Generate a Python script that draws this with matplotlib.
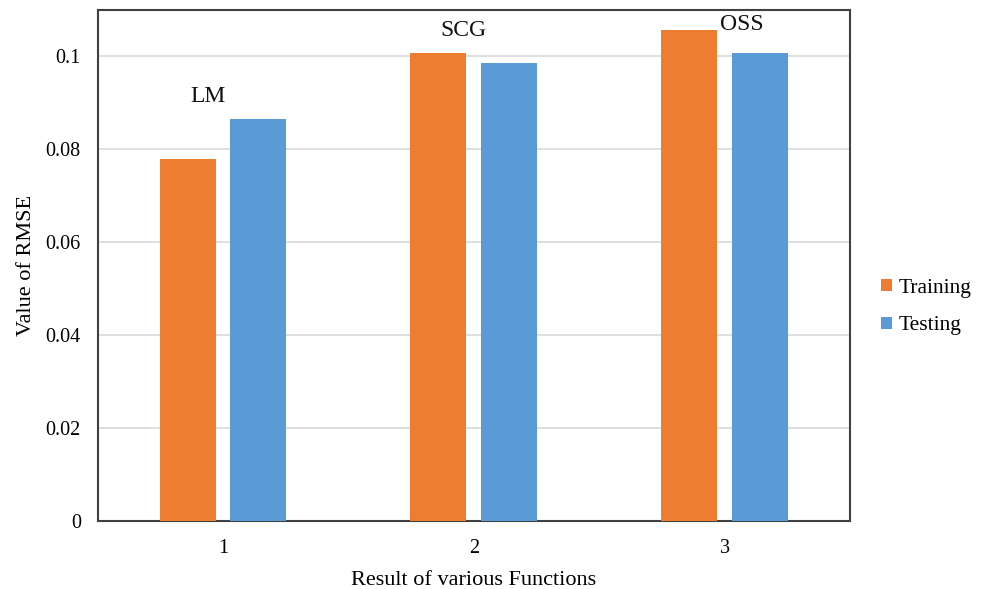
import matplotlib.pyplot as plt
import numpy as np

# RMSE per training function
categories = ['1', '2', '3']
functions = ['LM', 'SCG', 'OSS']
training = [0.0779, 0.1006, 0.1055]
testing = [0.0865, 0.0986, 0.1006]

plt.rcParams['font.family'] = ['Liberation Serif', 'DejaVu Serif']

fig = plt.figure(figsize=(9.88, 5.89), dpi=100)
ax = fig.add_axes([97.5 / 988, 1 - 521 / 589, (850 - 97.5) / 988, (521 - 9.5) / 589])

x = np.arange(len(categories))
width = 0.223
offset = 0.141

ax.bar(x - offset, training, width, color='#ED7D31', label='Training', zorder=3)
ax.bar(x + offset, testing, width, color='#5B9BD5', label='Testing', zorder=3)

# function names above each group
label_pos = [(-0.06, 0.0912), (-0.042, 0.1054), (0.07, 0.1067)]
for i, (name, (dx, y)) in enumerate(zip(functions, label_pos)):
    ax.text(x[i] + dx, y, name, ha='center', va='center', fontsize=17, color='#111111')

ax.set_xlim(-0.5, 2.5)
ax.set_ylim(0, 0.11)
ax.set_xticks(x)
ax.set_xticklabels(categories)
ax.set_yticks([0, 0.02, 0.04, 0.06, 0.08, 0.1])
ax.set_yticklabels(['0', '0.02', '0.04', '0.06', '0.08', '0.1'])
ax.tick_params(axis='both', length=0, labelsize=14.5, pad=12)
ax.tick_params(axis='x', pad=13)

ax.grid(axis='y', color='#d9d9d9', linewidth=1.2, zorder=0)
ax.set_axisbelow(True)
for spine in ax.spines.values():
    spine.set_edgecolor('#404040')
    spine.set_linewidth(1.5)

ax.set_xlabel('Result of various Functions', fontsize=16, va='baseline')
ax.xaxis.set_label_coords(0.5, -0.125)
ax.set_ylabel('Value of RMSE', fontsize=16, va='center')
ax.yaxis.set_label_coords(-0.095, 0.5)

ax.legend(loc='center left', bbox_to_anchor=(1.016, 0.418), frameon=False,
          fontsize=15.5, handlelength=0.47, handleheight=0.47, handletextpad=0.35,
          labelspacing=0.85)

fig.savefig('out.png', dpi=100)
